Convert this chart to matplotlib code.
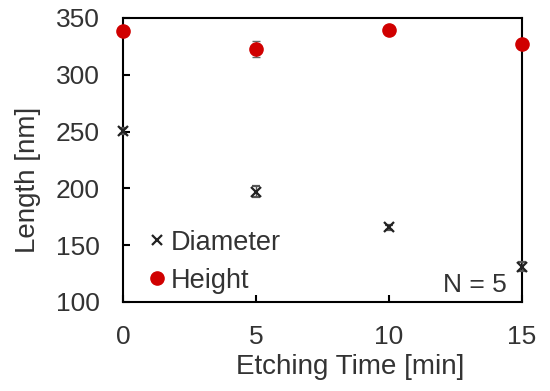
import numpy as np
import matplotlib.pyplot as plt
from matplotlib.lines import Line2D

plt.rcParams['font.family'] = ['Liberation Sans', 'DejaVu Sans']

# data
etch_time = [0, 5, 10, 15]
diameter = [250.5, 197, 165.5, 131]
diameter_err = [3, 5, 2, 4]
height = [338.5, 323, 339.5, 327]
height_err = [2, 7, 1.5, 2]

txt = '#333333'

fig, ax = plt.subplots(figsize=(5.5, 3.91), dpi=100)
fig.subplots_adjust(left=0.224, right=0.949, top=0.954, bottom=0.228)

ax.errorbar(etch_time, diameter, yerr=diameter_err, fmt='x', color='#222222',
            ms=6.5, mew=1.6, ecolor='#555555', elinewidth=1, capsize=3,
            clip_on=False, zorder=3)
ax.errorbar(etch_time, height, yerr=height_err, fmt='o', color='#d00000',
            ms=9.5, ecolor='#666666', elinewidth=1, capsize=3,
            clip_on=False, zorder=4)

ax.set_xlim(0, 15)
ax.set_ylim(100, 350)
ax.set_xticks([0, 5, 10, 15])
ax.set_yticks([100, 150, 200, 250, 300, 350])
ax.tick_params(direction='in', length=5, width=1.5, labelsize=19,
               labelcolor=txt)
ax.tick_params(axis='x', pad=17)
ax.tick_params(axis='y', pad=17)
for s in ax.spines.values():
    s.set_linewidth(1.5)

ax.set_xlabel('Etching Time [min]', fontsize=20, color=txt)
ax.xaxis.set_label_coords(0.569, -0.185)
ax.set_ylabel('Length [nm]', fontsize=20, color=txt)
ax.yaxis.set_label_coords(-0.205, 0.43)

handles = [
    Line2D([], [], ls='none', marker='x', color='#222222', ms=6.5, mew=1.6),
    Line2D([], [], ls='none', marker='o', color='#d00000', ms=9.5),
]
ax.legend(handles, ['Diameter', 'Height'], loc='lower left', frameon=False,
          fontsize=19.5, handletextpad=0.1, handlelength=0.8,
          labelspacing=0.45, borderaxespad=0, bbox_to_anchor=(0.03, -0.01),
          labelcolor=txt)
ax.text(0.962, 0.06, 'N = 5', transform=ax.transAxes, ha='right', va='center',
        fontsize=19, color=txt)

fig.savefig('out.png', dpi=100)
